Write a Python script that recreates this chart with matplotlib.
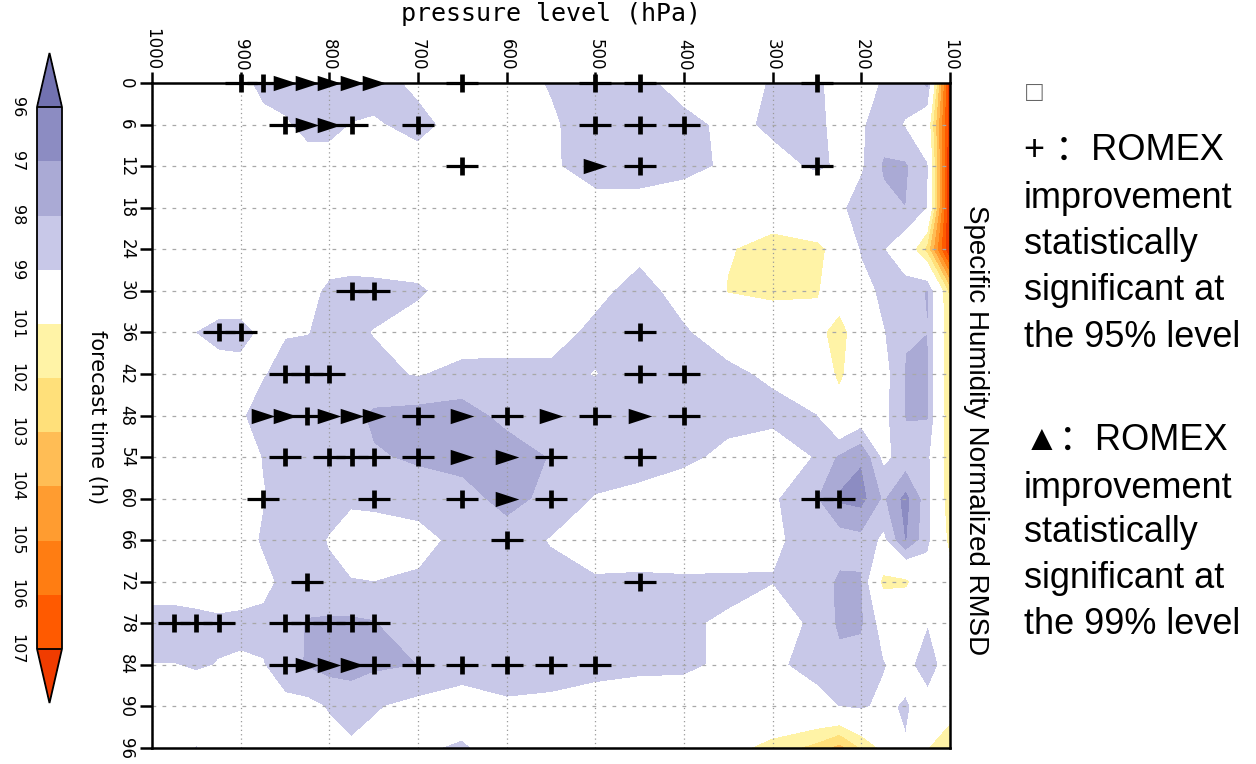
import matplotlib
matplotlib.use('Agg')
import matplotlib.pyplot as plt
from matplotlib.colors import ListedColormap, BoundaryNorm
from matplotlib.path import Path

# grid of the field: pressure levels (hPa) and forecast times (h)
pressure = [1000, 975, 950, 925, 900, 875, 850, 825, 800, 775, 750, 700, 650,
            600, 550, 500, 450, 400, 350, 300, 250, 225, 200, 175, 150, 125, 100]
forecast_time = [0, 6, 12, 18, 24, 30, 36, 42, 48, 54, 60, 66, 72, 78, 84, 90, 96]

# normalized RMSD (%), one row per forecast time
rmsd = [
    [99.8, 99.7, 99.6, 99.5, 99.3, 98.7, 98.6, 98.5, 98.5, 98.5, 98.6, 99.2, 99.6, 99.5, 98.9, 98.4, 98.6, 99.5, 100.0, 98.8, 98.7, 99.6, 99.7, 98.8, 98.6, 97.7, 107.5],
    [99.9, 99.8, 99.7, 99.6, 99.5, 99.3, 99.1, 98.7, 98.7, 99.02, 99.1, 98.7, 99.4, 99.8, 99.15, 98.4, 98.4, 98.6, 99.3, 98.8, 98.6, 99.5, 99.1, 98.5, 99.05, 100.0, 107.5],
    [99.9, 99.9, 99.8, 99.7, 99.6, 99.6, 99.5, 99.4, 99.4, 99.5, 99.5, 99.4, 99.6, 100.0, 99.15, 98.5, 98.5, 98.7, 99.15, 99.3, 98.85, 99.1, 99.1, 97.85, 97.85, 98.9, 108.0],
    [99.9, 99.9, 99.9, 99.8, 99.8, 99.7, 99.7, 99.6, 99.6, 99.6, 99.6, 99.7, 99.8, 99.9, 99.8, 99.4, 99.4, 99.6, 99.9, 100.3, 99.9, 99.2, 98.5, 98.3, 98.0, 99.0, 108.0],
    [99.9, 99.9, 99.9, 99.8, 99.8, 99.8, 99.7, 99.6, 99.5, 99.5, 99.6, 99.8, 99.9, 99.9, 99.8, 99.7, 99.2, 99.8, 100.9, 101.4, 101.2, 100.6, 98.8, 98.9, 99.8, 102.3, 108.0],
    [99.9, 99.8, 99.7, 99.6, 99.6, 99.5, 99.4, 99.3, 98.8, 98.7, 98.7, 98.8, 99.6, 99.8, 99.7, 99.2, 98.7, 99.3, 101.05, 101.2, 101.05, 100.5, 99.6, 98.6, 98.5, 97.9, 102.2],
    [100.0, 99.6, 98.98, 98.7, 98.7, 99.15, 99.05, 99.02, 98.8, 98.8, 99.02, 99.6, 99.5, 99.3, 99.3, 98.8, 98.6, 98.9, 99.4, 100.3, 100.75, 101.3, 100.4, 99.05, 98.1, 98.0, 102.0],
    [100.0, 99.8, 99.6, 99.4, 99.3, 99.05, 98.7, 98.6, 98.6, 98.7, 98.8, 99.05, 98.7, 98.8, 98.8, 99.02, 98.5, 98.6, 98.8, 99.15, 100.3, 101.15, 100.3, 99.4, 97.9, 97.9, 102.0],
    [100.0, 100.0, 99.7, 99.4, 99.1, 98.6, 97.95, 98.4, 98.4, 98.3, 97.8, 97.6, 97.5, 98.3, 98.5, 98.5, 98.4, 98.5, 98.6, 98.7, 98.95, 100.5, 99.7, 99.3, 97.9, 97.9, 101.9],
    [100.0, 100.0, 99.8, 99.6, 99.5, 98.95, 98.6, 98.5, 98.5, 98.05, 98.1, 97.85, 97.6, 97.4, 98.05, 98.5, 98.5, 98.7, 99.3, 99.6, 98.9, 97.8, 97.1, 99.2, 98.6, 98.7, 101.8],
    [100.0, 100.0, 99.8, 99.6, 99.5, 99.05, 98.7, 98.6, 98.6, 98.7, 98.6, 98.5, 98.4, 97.6, 98.3, 99.05, 99.3, 99.8, 99.9, 99.15, 98.0, 96.8, 96.6, 98.1, 96.6, 98.6, 101.7],
    [100.0, 100.0, 99.8, 99.6, 99.5, 98.85, 98.7, 98.6, 99.05, 99.8, 99.8, 99.4, 98.6, 98.5, 99.05, 99.8, 99.9, 99.8, 99.7, 99.15, 98.6, 98.5, 98.3, 99.2, 96.9, 98.7, 101.3],
    [99.6, 99.6, 99.7, 99.6, 99.4, 99.3, 98.7, 98.6, 98.8, 98.9, 98.98, 98.8, 98.6, 98.6, 98.7, 98.8, 98.7, 98.8, 98.8, 98.95, 98.6, 97.8, 97.9, 101.3, 101.2, 99.7, 100.2],
    [98.5, 98.5, 98.6, 98.8, 98.8, 98.7, 98.6, 97.9, 97.8, 97.8, 97.9, 98.8, 98.8, 98.8, 98.8, 98.8, 98.8, 98.9, 99.1, 99.6, 98.7, 97.8, 97.85, 99.5, 99.6, 99.05, 99.8],
    [99.02, 99.02, 98.9, 99.03, 99.1, 99.05, 98.4, 97.9, 97.6, 97.6, 97.8, 98.0, 98.6, 97.95, 98.6, 98.7, 98.8, 98.8, 99.2, 99.2, 98.6, 98.3, 98.4, 98.9, 99.6, 97.95, 100.2],
    [99.6, 99.6, 99.6, 99.5, 99.5, 99.4, 99.3, 99.3, 98.9, 98.6, 98.9, 99.3, 99.4, 99.3, 99.2, 99.4, 99.5, 99.6, 99.7, 99.5, 99.4, 98.98, 98.8, 99.3, 98.8, 99.8, 100.2],
    [99.7, 99.5, 98.95, 99.5, 99.7, 99.7, 99.6, 99.5, 99.4, 99.15, 99.3, 99.1, 98.9, 99.4, 99.6, 99.7, 99.8, 99.9, 100.5, 101.4, 102.3, 103.3, 101.8, 100.6, 99.1, 100.9, 102.0],
]

# significance markers: 95% (+) and 99% (triangle)
plus_time = [0, 0, 0, 0, 0, 0,
             6, 6, 6, 6, 6, 6,
             12, 12, 12,
             30, 30,
             36, 36, 36,
             42, 42, 42, 42, 42,
             48, 48, 48, 48, 48,
             54, 54, 54, 54, 54, 54, 54,
             60, 60, 60, 60, 60, 60,
             66,
             72, 72,
             78, 78, 78, 78, 78, 78, 78, 78,
             84, 84, 84, 84, 84, 84, 84]
plus_pres = [900, 875, 650, 500, 450, 250,
             850, 775, 700, 500, 450, 400,
             650, 450, 250,
             775, 750,
             925, 900, 450,
             850, 825, 800, 450, 400,
             825, 700, 600, 500, 400,
             850, 800, 775, 750, 700, 550, 450,
             875, 750, 650, 550, 250, 225,
             600,
             825, 450,
             975, 950, 925, 850, 825, 800, 775, 750,
             850, 750, 700, 650, 600, 550, 500]
tri_time = [0, 0, 0, 0, 0,
            6, 6,
            12,
            48, 48, 48, 48, 48, 48, 48, 48,
            54, 54,
            60,
            84, 84, 84]
tri_pres = [850, 825, 800, 775, 750,
            825, 800,
            500,
            875, 850, 800, 775, 750, 650, 550, 450,
            650, 600,
            600,
            825, 800, 775]

levels = [96, 97, 98, 99, 101, 102, 103, 104, 105, 106, 107]
fill_colors = ['#8c8cc2', '#aaaad5', '#c8c8e8', '#ffffff', '#fff3a6', '#ffe07a',
               '#ffbd55', '#ff9c30', '#ff7d12', '#ff5a00']

legend_lines = ['+ \uff1aROMEX', 'improvement', 'statistically', 'significant at', 'the 95% level',
                '\u25b2\uff1aROMEX', 'improvement', 'statistically', 'significant at', 'the 99% level']
legend_y = [150, 198, 245, 290, 337, 440, 488, 533, 578, 625]

W, H = 1256, 764
fig = plt.figure(figsize=(W / 100, H / 100), dpi=100)
ax = fig.add_axes([152 / W, 1 - 748 / H, 798 / W, 665 / H])

cmap = ListedColormap(fill_colors)
cmap.set_under('#7272b0')
cmap.set_over('#f03c00')
norm = BoundaryNorm(levels, cmap.N)
cf = ax.contourf(pressure, forecast_time, rmsd, levels=levels, cmap=cmap, norm=norm,
                 extend='both', zorder=1)

ax.set_xlim(1000, 100)
ax.set_ylim(96, 0)
ax.set_xticks(list(range(1000, 99, -100)))
ax.set_yticks(forecast_time)
ax.xaxis.tick_top()
ax.tick_params(axis='x', direction='out', length=8, width=1.8, pad=1,
               labelsize=12, labelrotation=270)
ax.tick_params(axis='y', direction='out', length=9, width=1.8, pad=3,
               labelsize=12, labelrotation=270)
for lab in ax.get_yticklabels():
    lab.set_va('center')
ax.xaxis.grid(True, color='#9a9a9a', linestyle=(0, (1, 2.5)), linewidth=0.9)
ax.yaxis.grid(True, color='#a8a8a8', linestyle=(0, (3, 5)), linewidth=0.9)
for s in ax.spines.values():
    s.set_linewidth(1.8)

# markers
ax.plot(plus_pres, plus_time, ls='none', marker='_', ms=23, mew=2.3, color='black',
        clip_on=False, zorder=4)
ax.plot(plus_pres, plus_time, ls='none', marker='|', ms=13, mew=3.4, color='black',
        clip_on=False, zorder=4)
tri = Path([(-1, -0.65), (1, 0), (-1, 0.65), (-1, -0.65)],
           [Path.MOVETO, Path.LINETO, Path.LINETO, Path.CLOSEPOLY])
ax.plot(tri_pres, tri_time, ls='none', marker=tri, ms=17, color='black', mec='none',
        clip_on=False, zorder=4)

# colorbar on the left, 96 at the top
cax = fig.add_axes([37 / W, 1 - 703 / H, 25 / W, 650 / H])
cb = fig.colorbar(cf, cax=cax, extendfrac=0.1, drawedges=True)
cax.invert_yaxis()
cb.update_normal(cf)
cb.set_ticks(levels)
cb.set_ticklabels([str(v) for v in levels])
cb.outline.set_linewidth(1.3)
cb.dividers.set_linewidth(1.3)
cax.yaxis.set_ticks_position('left')
cax.tick_params(length=0, pad=9, labelsize=11.5, labelrotation=270)
for lab in cax.get_yticklabels():
    lab.set_va('center')

fig.text(551 / W, 1 - 14 / H, 'pressure level (hPa)', ha='center', va='center', fontsize=18,
         family='DejaVu Sans Mono')
fig.text(97 / W, 1 - 417 / H, 'forecast time (h)', rotation=270, ha='center', va='center',
         fontsize=15)
fig.text(976 / W, 1 - 430 / H, 'Specific Humidity Normalized RMSD', rotation=270,
         ha='center', va='center', fontsize=20, family='Liberation Sans')

fig.text(1026 / W, 1 - 94 / H, '\u25a1', ha='left', va='center', fontsize=20, color='#666666',
         family=['Liberation Sans', 'DejaVu Sans'])
for txt, yy in zip(legend_lines, legend_y):
    fig.text(1024 / W, 1 - yy / H, txt, ha='left', va='center', fontsize=26,
             family=['Liberation Sans', 'Noto Sans CJK SC', 'DejaVu Sans'])

fig.savefig('out.png', dpi=100)
